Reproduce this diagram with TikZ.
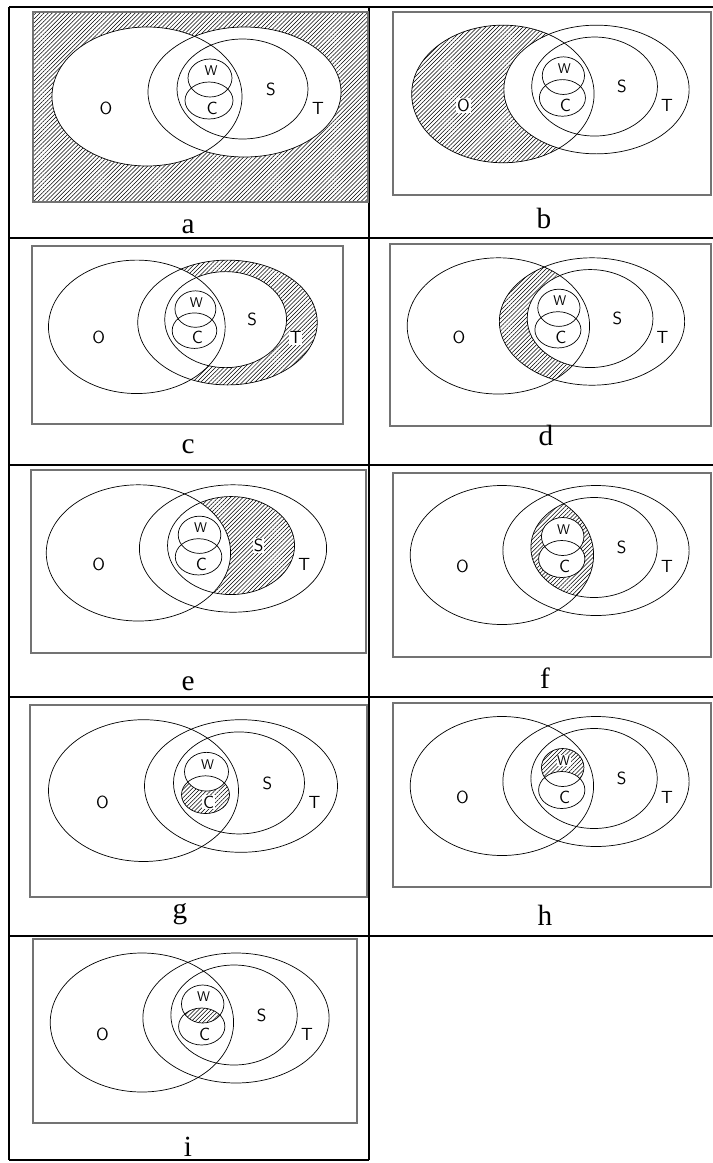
\documentclass[tikz,border=0pt]{standalone}
\usepackage{fontspec}
\setmainfont{Liberation Serif}
\usetikzlibrary{patterns.meta}

% the five sets, around the centre of T
\newcommand{\ovalO}{(-97.5,4.5) ellipse [x radius=95, y radius=69.5]}
\newcommand{\ovalT}{(0,0) ellipse [x radius=96.5, y radius=65]}
\newcommand{\ovalS}{(-2,-3) ellipse [x radius=65.5, y radius=50]}
\newcommand{\ovalW}{(-34.5,-14) ellipse [x radius=22, y radius=19]}
\newcommand{\ovalC}{(-35.5,8.5) ellipse [x radius=24, y radius=18.5]}

\newcommand{\vennsets}[1]{%
    \draw[setline] \ovalO;
    \draw[setline] \ovalT;
    \draw[setline] \ovalS;
    \draw[setline] \ovalW;
    \draw[setline] \ovalC;
    \node[setname] (#1O) at (-138.5,16) {O};
    \node[setname, font=\fontsize{12}{12}\sffamily] (#1W) at (-33.5,-21) {W};
    \node[setname] (#1C) at (-32.5,16) {C};
    \node[setname] (#1S) at (26.5,-3) {S};
    \node[setname] (#1T) at (73.5,16) {T};
}

\begin{document}
\begin{tikzpicture}[x=0.03cm, y=-0.03cm,
    setline/.style={line width=0.6pt},
    vennframe/.style={draw=black!55, line width=0.9pt},
    tableline/.style={line width=1.7pt},
    hatched/.style={pattern={Lines[angle=45, distance=2.5pt, line width=0.45pt]}},
    setname/.style={font=\fontsize{15}{15}\sffamily, fill=white, inner sep=0.6pt},
    panellabel/.style={font=\fontsize{25}{25}\selectfont, anchor=base}]

    \useasboundingbox (0,0) rectangle (713,1163);

    % --- table ---
    \foreach \y in {7, 238, 465, 697, 936}
        \draw[tableline] (9,\y) -- (713,\y);
    \draw[tableline] (9,1160) -- (369,1160);
    \draw[tableline] (9,7) -- (9,1160);
    \draw[tableline] (369,7) -- (369,1160);

    % panel a: outside O and T
    \filldraw[vennframe, hatched] (33,12) rectangle (368,202);
    \begin{scope}[shift={(244.5,92)}]
        \fill[white] \ovalO;
        \fill[white] \ovalT;
        \vennsets{a}
    \end{scope}
    \node[panellabel] (la) at (188,233) {a};

    % panel b: O without T
    \draw[vennframe] (393,12) rectangle (711,195);
    \begin{scope}[shift={(596.5,89.5)}, xscale=0.96, yscale=0.99]
        \fill[hatched] \ovalO;
        \fill[white] \ovalT;
        \vennsets{b}
    \end{scope}
    \node[panellabel] (lb) at (544,228) {b};

    % panel c: T without S and O
    \draw[vennframe] (32,246) rectangle (343,424);
    \begin{scope}[shift={(227.5,322.5)}, xscale=0.93, yscale=0.96]
        \fill[hatched] \ovalT;
        \fill[white] \ovalS;
        \fill[white] \ovalO;
        \vennsets{c}
    \end{scope}
    \node[panellabel] (lc) at (188,453) {c};

    % panel d: O and T without S
    \draw[vennframe] (390,244) rectangle (711,426);
    \begin{scope}[shift={(592,321.5)}, xscale=0.96, yscale=0.98]
        \begin{scope}
            \clip \ovalO;
            \fill[hatched] \ovalT;
        \end{scope}
        \fill[white] \ovalS;
        \vennsets{d}
    \end{scope}
    \node[panellabel] (ld) at (546,445) {d};

    % panel e: S without O
    \draw[vennframe] (31,470) rectangle (366,653);
    \begin{scope}[shift={(233,548.5)}, xscale=0.97, yscale=0.98]
        \fill[hatched] \ovalS;
        \fill[white] \ovalO;
        \vennsets{e}
    \end{scope}
    \node[panellabel] (le) at (188,690) {e};

    % panel f: S and O without W and C
    \draw[vennframe] (393,473) rectangle (711,657);
    \begin{scope}[shift={(596,550.5)}, xscale=0.965, yscale=1]
        \begin{scope}
            \clip \ovalO;
            \fill[hatched] \ovalS;
        \end{scope}
        \fill[white] \ovalW;
        \fill[white] \ovalC;
        \vennsets{f}
    \end{scope}
    \node[panellabel] (lf) at (545,688) {f};

    % panel g: C without W
    \draw[vennframe] (30,705) rectangle (367,897);
    \begin{scope}[shift={(241,786)}, xscale=1, yscale=1.02]
        \fill[hatched] \ovalC;
        \fill[white] \ovalW;
        \vennsets{g}
    \end{scope}
    \node[panellabel] (lg) at (180,918) {g};

    % panel h: W without C
    \draw[vennframe] (393,703) rectangle (711,887);
    \begin{scope}[shift={(596,781.5)}, xscale=0.965, yscale=1]
        \fill[hatched] \ovalW;
        \fill[white] \ovalC;
        \vennsets{h}
    \end{scope}
    \node[panellabel] (lh) at (545,925) {h};

    % panel i: W and C
    \draw[vennframe] (33,939) rectangle (357,1123);
    \begin{scope}[shift={(236,1018)}, xscale=0.965, yscale=1]
        \begin{scope}
            \clip \ovalW;
            \fill[hatched] \ovalC;
        \end{scope}
        \vennsets{i}
    \end{scope}
    \node[panellabel] (li) at (188,1156) {i};

\end{tikzpicture}
\end{document}
